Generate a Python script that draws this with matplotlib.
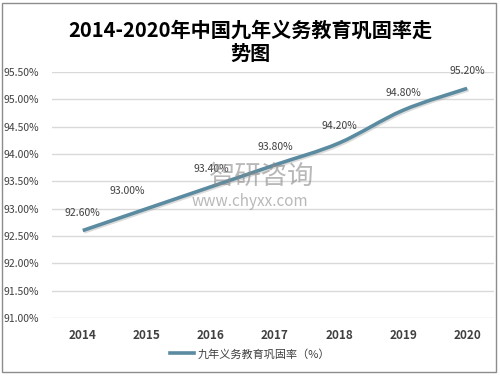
import matplotlib
matplotlib.use("Agg")
import matplotlib.pyplot as plt
import numpy as np
from matplotlib.path import Path
from matplotlib.patches import PathPatch, Rectangle
import matplotlib.patheffects as pe

plt.rcParams['font.family'] = ['Noto Sans CJK SC', 'DejaVu Sans']

years = ['2014', '2015', '2016', '2017', '2018', '2019', '2020']
values = [92.6, 93.0, 93.4, 93.8, 94.2, 94.8, 95.2]
labels = ['92.60%', '93.00%', '93.40%', '93.80%', '94.20%', '94.80%', '95.20%']
yticks = [91.0, 91.5, 92.0, 92.5, 93.0, 93.5, 94.0, 94.5, 95.0, 95.5]
title = '2014-2020年中国九年义务教育巩固率走\n势图'
series_name = '九年义务教育巩固率（%）'

line_color = '#5B8BA0'
text_color = '#404040'

fig = plt.figure(figsize=(5.0, 3.77), dpi=100)
fig.patches.append(Rectangle((2/500, 1-372/377), 494/500, 369/377, transform=fig.transFigure,
                             fill=False, edgecolor='#8c8c8c', linewidth=1.0))

ax = fig.add_axes([52/500, 1-318/377, 442/500, 246/377])
ax.set_xlim(-0.48, 6.42)
ax.set_ylim(91.0, 95.5)

# smooth curve through data (Catmull-Rom as Bezier)
x = np.arange(len(values), dtype=float)
y = np.array(values)
verts = [(x[0], y[0])]
codes = [Path.MOVETO]
t = 1/6
for i in range(len(x)-1):
    p0 = (x[max(i-1, 0)], y[max(i-1, 0)])
    p1 = (x[i], y[i])
    p2 = (x[i+1], y[i+1])
    p3 = (x[min(i+2, len(x)-1)], y[min(i+2, len(x)-1)])
    c1 = (p1[0] + (p2[0]-p0[0])*t, p1[1] + (p2[1]-p0[1])*t)
    c2 = (p2[0] - (p3[0]-p1[0])*t, p2[1] - (p3[1]-p1[1])*t)
    verts += [c1, c2, p2]
    codes += [Path.CURVE4]*3
patch = PathPatch(Path(verts, codes), facecolor='none', edgecolor=line_color, linewidth=2.6,
                  capstyle='butt', zorder=3,
                  path_effects=[pe.SimpleLineShadow(offset=(1.0, -1.0), shadow_color='#999999', alpha=0.35),
                                pe.Normal()])
ax.add_patch(patch)
ax.plot([], [], color=line_color, linewidth=2.6, label=series_name)

offsets = [(0, 9), (-14, 9), (0, 9), (0, 9), (0, 9), (0, 9), (0, 9)]
for xi, yi, lab, off in zip(x, y, labels, offsets):
    ax.annotate(lab, (xi, yi), xytext=off, textcoords='offset points', ha='center', va='bottom',
                fontsize=7.5, color=text_color, zorder=4)

ax.set_yticks(yticks)
ax.set_yticklabels(['%.2f%%' % v for v in yticks], fontsize=7.5, color=text_color)
ax.set_xticks(x)
ax.set_xticklabels(years, fontsize=8.5, fontweight='bold', color=text_color)
ax.tick_params(axis='both', length=0)
ax.tick_params(axis='y', pad=9)
ax.tick_params(axis='x', pad=8)
ax.grid(axis='y', color='#d9d9d9', linewidth=1.0)
ax.set_axisbelow(True)
for s in ax.spines.values():
    s.set_visible(False)

fig.text(0.5, 1-42/377, title, ha='center', va='center', fontsize=14.5, fontweight='bold',
         color='#000000', linespacing=1.15)

leg = fig.legend(loc='center', bbox_to_anchor=(0.5, 1-354/377), frameon=False, fontsize=8,
                 handlelength=2.2, handletextpad=0.3)
for t_ in leg.get_texts():
    t_.set_color(text_color)

# watermark
fig.text(262/500, 1-176/377, '智研咨询', ha='center', va='center', fontsize=19, color='#8a8a8a', alpha=0.6, zorder=1)
fig.text(250/500, 1-201/377, 'www.chyxx.com', ha='center', va='center', fontsize=11, color='#8a8a8a', alpha=0.6, zorder=1)

fig.savefig('out.png', dpi=100)
